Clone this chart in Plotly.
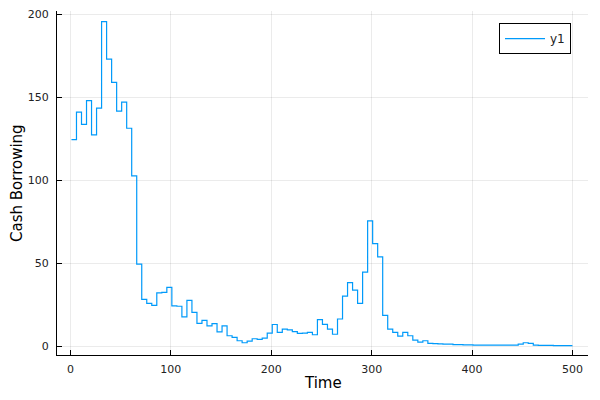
import plotly.graph_objects as go

# block start times (each value held for 5 periods)
block_start = [1 + 5 * i for i in range(100)]
borrowing = [
    124.5, 141.0, 133.7, 148.0, 127.3, 143.4, 195.6, 173.0, 159.0, 141.6,
    147.0, 131.3, 102.6, 49.4, 28.1, 25.7, 24.5, 32.1, 32.3, 35.4,
    24.2, 24.0, 17.6, 27.5, 20.3, 13.7, 15.5, 12.2, 13.5, 8.5,
    12.2, 6.2, 5.2, 3.2, 2.0, 3.0, 4.4, 4.0, 4.8, 7.8,
    13.0, 8.2, 10.2, 9.8, 8.7, 7.6, 7.8, 8.2, 6.8, 15.9,
    13.1, 10.2, 7.1, 16.3, 30.1, 38.2, 33.7, 25.7, 44.6, 75.5,
    61.8, 53.8, 18.5, 10.2, 8.2, 6.0, 8.2, 6.2, 3.6, 2.4,
    3.2, 1.6, 1.4, 1.3, 1.2, 1.1, 0.9, 0.8, 0.7, 0.7,
    0.6, 0.6, 0.6, 0.6, 0.5, 0.5, 0.5, 0.5, 0.6, 1.2,
    2.0, 1.6, 0.5, 0.4, 0.4, 0.4, 0.3, 0.3, 0.3, 0.3,
]
t_end = 500

x = block_start + [t_end]
y = borrowing + [borrowing[-1]]

x_ticks = [0, 100, 200, 300, 400, 500]
y_ticks = [0, 50, 100, 150, 200]

fig = go.Figure()
fig.add_trace(go.Scatter(
    x=x, y=y, mode="lines", name="y1",
    line=dict(color="#009AFA", width=1.2, shape="hv"),
))

font_family = "DejaVu Sans"
fig.update_layout(
    width=600, height=400,
    # page body has an 8px default margin, so margins are offset by 8px
    margin=dict(l=49, r=20, t=3, b=53),
    paper_bgcolor="white", plot_bgcolor="white",
    font=dict(family=font_family, color="black"),
    showlegend=True,
    legend=dict(
        x=0.968, y=0.965, xanchor="right", yanchor="top",
        bordercolor="black", borderwidth=1, bgcolor="white",
        itemwidth=40,
        font=dict(size=12, family=font_family, color="#222"),
    ),
    xaxis=dict(
        range=[-13.4, 515.5], tickvals=x_ticks, automargin=False,
        showgrid=True, gridcolor="rgba(0,0,0,0.08)", gridwidth=1,
        zeroline=False, showline=True, linecolor="black", linewidth=1,
        ticks="inside", ticklen=5, tickcolor="black",
        ticklabelstandoff=4,
        tickfont=dict(size=11, color="#222"),
    ),
    yaxis=dict(
        range=[-5.4, 202.0], tickvals=y_ticks, automargin=False,
        showgrid=True, gridcolor="rgba(0,0,0,0.08)", gridwidth=1,
        zeroline=False, showline=True, linecolor="black", linewidth=1,
        ticks="inside", ticklen=5, tickcolor="black",
        ticklabelstandoff=5,
        tickfont=dict(size=11, color="#222"),
    ),
    annotations=[
        dict(text="Time", xref="paper", yref="paper", x=0.5, y=0,
             xanchor="center", yanchor="middle", yshift=-28,
             showarrow=False, font=dict(size=15)),
        dict(text="Cash Borrowing", xref="paper", yref="paper", x=0, y=0.5,
             xanchor="center", yanchor="middle", xshift=-40, textangle=-90,
             showarrow=False, font=dict(size=15)),
    ],
)

fig.write_html("out.html")
